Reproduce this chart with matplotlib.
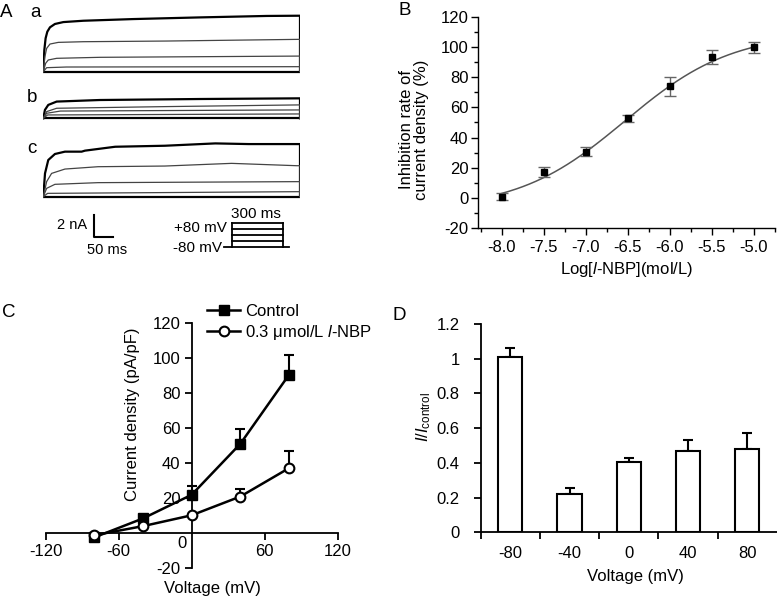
import numpy as np
import matplotlib
matplotlib.use('Agg')
import matplotlib.pyplot as plt
from matplotlib.ticker import MultipleLocator, FixedLocator

plt.rcParams['font.family'] = ['Liberation Sans', 'DejaVu Sans']
plt.rcParams['mathtext.fontset'] = 'custom'
plt.rcParams['mathtext.rm'] = 'Liberation Sans'
plt.rcParams['mathtext.it'] = 'Liberation Sans:italic'
plt.rcParams['axes.unicode_minus'] = False
plt.rcParams['font.size'] = 12

# ---------------- data ----------------
# A: current traces (time ms, current nA)
trace_t_a = [[0, 1.2, 2.7, 4.7, 7.8, 13.6, 23.4, 46.8, 105, 183, 261, 298],
             [0, 1.9, 3.9, 7.8, 17.5, 46.8, 144, 298],
             [0, 2.7, 5.8, 15.6, 66, 298],
             [0, 3.9, 27, 298]]
trace_i_a = [[0, 1.94, 3.0, 3.59, 3.98, 4.28, 4.45, 4.57, 4.72, 4.87, 5.0, 5.02],
             [0, 1.35, 2.09, 2.48, 2.63, 2.69, 2.75, 2.9],
             [0, 0.75, 1.05, 1.2, 1.29, 1.4],
             [0, 0.36, 0.42, 0.45]]
trace_t_b = [[0, 1.9, 5.8, 15.6, 66, 183, 298],
             [0, 3.9, 15.6, 144, 298],
             [0, 3.9, 20, 298],
             [0, 5, 298]]
trace_i_b = [[0, 0.75, 1.2, 1.5, 1.64, 1.73, 1.79],
             [0, 0.6, 0.9, 1.05, 1.2],
             [0, 0.45, 0.65, 0.75],
             [0, 0.3, 0.39]]
trace_t_c = [[0, 2.0, 5.8, 13.6, 25.3, 44.8, 48.7, 84, 142, 201, 240, 296],
             [0, 3.9, 9.7, 25.3, 64, 142, 220, 296],
             [0, 3.9, 13.6, 64, 296],
             [0, 5, 296]]
trace_i_c = [[0, 2.09, 3.29, 3.83, 4.04, 4.04, 4.13, 4.48, 4.57, 4.78, 4.72, 4.72],
             [0, 1.35, 2.09, 2.48, 2.69, 2.75, 2.99, 2.78],
             [0, 0.75, 1.11, 1.26, 1.35],
             [0, 0.3, 0.45]]
step_mv = [-80, -40, 0, 40, 80]

# B: concentration-response
log_conc = [-8.0, -7.5, -7.0, -6.5, -6.0, -5.5, -5.0]
inhibition = [0.6, 16.8, 30.6, 52.7, 74.2, 93.5, 100.0]
inhibition_err = [2.5, 3.3, 3.0, 2.3, 6.4, 4.5, 3.7]
fit_bottom, fit_top, fit_logic50, fit_hill = -8.0, 110.0, -6.533, 0.68
B_xticks = [-8.0, -7.5, -7.0, -6.5, -6.0, -5.5, -5.0]
B_yticks = [-20, 0, 20, 40, 60, 80, 100, 120]

# C: I-V curves
voltage = [-80, -40, 0, 40, 80]
control = [-2.5, 8.3, 21.8, 50.9, 90.3]
control_err = [0, 0, 5.2, 8.6, 11.5]
nbp = [-1.3, 3.9, 10.1, 20.8, 37.0]
nbp_err = [0, 0, 0, 4.2, 9.8]
C_xticks = [-120, -60, 60, 120]
C_yticks = [-20, 20, 40, 60, 80, 100, 120]

# D: I/Icontrol
D_labels = ['-80', '-40', '0', '40', '80']
ratio = [1.01, 0.22, 0.405, 0.47, 0.478]
ratio_err = [0.05, 0.038, 0.022, 0.062, 0.095]
D_yticks = [0, 0.2, 0.4, 0.6, 0.8, 1.0, 1.2]
D_yticklabels = ['0', '0.2', '0.4', '0.6', '0.8', '1', '1.2']

# ---------------- figure ----------------
W, H = 777, 600
fig = plt.figure(figsize=(W / 100, H / 100), dpi=100)


def px_axes(l, t, r, b):
    return fig.add_axes([l / W, 1 - b / H, (r - l) / W, (b - t) / H])


ov = px_axes(0, 0, W, H)
ov.set_xlim(0, W)
ov.set_ylim(H, 0)
ov.axis('off')

# panel letters
ov.text(0, 17, 'A', fontsize=13.5, va='baseline')
ov.text(398, 15, 'B', fontsize=13.5, va='baseline')
ov.text(2, 317, 'C', fontsize=13.5, va='baseline')
ov.text(393, 320, 'D', fontsize=13.5, va='baseline')

# ---------------- A ----------------
S = 11.15  # px per nA
for base, lab, ts, cs in [(71.7, 'a', trace_t_a, trace_i_a),
                          (118.3, 'b', trace_t_b, trace_i_b),
                          (196.7, 'c', trace_t_c, trace_i_c)]:
    ax = px_axes(43.3, base - 62, 300, base + 3)
    ax.set_xlim(0, 300)
    ax.set_ylim(-3 / S, 62 / S)
    ax.axis('off')
    ax.plot([0, 300], [0, 0], color='black', lw=1.6)
    for k, (t, c) in enumerate(zip(ts, cs)):
        tt = list(t) + [300, 300]
        cc = list(c) + [c[-1], 0]
        if k == 0:
            ax.plot(tt, cc, color='black', lw=1.6)
        else:
            ax.plot(tt, cc, color='#444444', lw=0.9)
    ov.text(30 if lab == 'a' else 27, (17 if lab == 'a' else (102 if lab == 'b' else 153)),
            lab, fontsize=13.5, va='baseline')

# scale bar
ov.plot([94.3, 94.3, 113.3], [215, 237.3, 237.3], color='black', lw=1.5)
ov.text(87, 225, '2 nA', fontsize=10.5, ha='right', va='center')
ov.text(107, 250, '50 ms', fontsize=10.5, ha='center', va='center')

# voltage protocol
for mv in step_mv:
    y = 246.7 - (mv + 80) * 0.15
    if mv == -80:
        ov.plot([224, 289], [y, y], color='black', lw=1.3)
    else:
        ov.plot([232, 283], [y, y], color='black', lw=1.3)
ov.plot([232, 232], [246.7, 222.7], color='black', lw=1.3)
ov.plot([283, 283], [246.7, 222.7], color='black', lw=1.3)
ov.text(227, 227.5, '+80 mV', fontsize=11, ha='right', va='center')
ov.text(222, 247.5, '-80 mV', fontsize=11, ha='right', va='center')
ov.text(256, 213.5, '300 ms', fontsize=11, ha='center', va='center')

# ---------------- B ----------------
axB = px_axes(478, 17.3, 774.8, 227.7)
xfit = np.linspace(log_conc[0], log_conc[-1], 200)
yfit = fit_bottom + (fit_top - fit_bottom) / (1 + 10 ** ((fit_logic50 - xfit) * fit_hill))
axB.plot(xfit, yfit, color='#555555', lw=1.1)
axB.errorbar(log_conc, inhibition, yerr=inhibition_err, fmt='s', ms=4, color='black',
             ecolor='#666666', elinewidth=1, capsize=4, capthick=1)
axB.set_xlim(-8.28, -4.75)
axB.set_ylim(-20, 120)
axB.set_xticks(B_xticks)
axB.set_xticklabels(['%.1f' % v for v in B_xticks])
axB.set_yticks(B_yticks)
axB.xaxis.set_minor_locator(MultipleLocator(0.25))
axB.yaxis.set_minor_locator(MultipleLocator(10))
for s in ['top', 'right']:
    axB.spines[s].set_visible(False)
for s in ['left', 'bottom']:
    axB.spines[s].set_linewidth(1)
axB.tick_params(which='major', length=5, width=1)
axB.tick_params(which='minor', length=3, width=1)
axB.tick_params(axis='y', pad=2)
axB.tick_params(axis='x', pad=4)
axB.set_ylabel('Inhibition rate of\ncurrent density (%)', va='center', linespacing=1.0)
axB.yaxis.set_label_coords(-0.2155, 0.467)
axB.set_xlabel(r'Log[$\mathit{l}$-NBP](mol/L)', va='center')
axB.xaxis.set_label_coords(0.502, -0.201)

# ---------------- C ----------------
axC = px_axes(45.7, 322.7, 337.7, 568)
axC.errorbar(voltage, control, yerr=[np.zeros(len(control_err)), control_err], fmt='none',
             ecolor='black', elinewidth=1.5, capsize=3.5, capthick=1.5)
axC.errorbar(voltage, nbp, yerr=[np.zeros(len(nbp_err)), nbp_err], fmt='none',
             ecolor='black', elinewidth=1.5, capsize=3.5, capthick=1.5)
axC.plot(voltage, control, '-s', color='black', lw=1.8, ms=6.5, label='Control', zorder=3)
axC.plot(voltage, nbp, '-o', color='black', lw=1.8, ms=7, mfc='white', mew=1.5,
         label=r'0.3 μmol/L $\mathit{l}$-NBP', zorder=3)
axC.set_xlim(-120, 120)
axC.set_ylim(-20, 120)
for s in ['top', 'right']:
    axC.spines[s].set_visible(False)
axC.spines['left'].set_position(('data', 0))
axC.spines['bottom'].set_position(('data', 0))
for s in ['left', 'bottom']:
    axC.spines[s].set_linewidth(1.3)
axC.set_xticks(C_xticks)
axC.set_yticks(C_yticks)
axC.tick_params(length=5, width=1.3, pad=3)
axC.text(0, 0, '0', transform=axC.transData, ha='right', va='top')
axC.texts[-1].set_position((-4, -1.5))
axC.set_ylabel('Current density (pA/pF)', va='center')
axC.yaxis.set_label_coords((132 - 45.7) / 292, (568 - 414) / 245.3)
axC.set_xlabel('Voltage (mV)', va='center')
axC.xaxis.set_label_coords((212 - 45.7) / 292, (568 - 588) / 245.3)
axC.legend(loc='upper left', bbox_to_anchor=(207 / W, 1 - 304 / H), bbox_transform=fig.transFigure,
           frameon=False, borderpad=0, borderaxespad=0, handlelength=2.0, handletextpad=0.3,
           labelspacing=0.25, fontsize=12)

# ---------------- D ----------------
axD = px_axes(480.7, 324, 776.7, 532.3)
xpos = np.arange(len(ratio))
axD.bar(xpos, ratio, width=0.41, color='white', edgecolor='black', lw=1.5, zorder=2)
axD.errorbar(xpos, ratio, yerr=[np.zeros(len(ratio_err)), ratio_err], fmt='none',
             ecolor='black', elinewidth=1.5, capsize=3.5, capthick=1.5, zorder=1)
axD.set_xlim(-0.5, 4.5)
axD.set_ylim(0, 1.2)
axD.set_xticks(xpos)
axD.set_xticklabels(D_labels)
axD.xaxis.set_minor_locator(FixedLocator([-0.5, 0.5, 1.5, 2.5, 3.5]))
axD.tick_params(axis='x', which='major', length=0, pad=10)
axD.tick_params(axis='x', which='minor', length=5, width=1.3)
axD.set_yticks(D_yticks)
axD.set_yticklabels(D_yticklabels)
axD.tick_params(axis='y', length=5, width=1.3, pad=10)
for s in ['top', 'right']:
    axD.spines[s].set_visible(False)
for s in ['left', 'bottom']:
    axD.spines[s].set_linewidth(1.3)
axD.set_ylabel(r'$I/I_{\mathrm{control}}$', va='center')
axD.yaxis.set_label_coords((424 - 480.7) / 296, (532.3 - 416.5) / 208.3)
axD.set_xlabel('Voltage (mV)', va='center')
axD.xaxis.set_label_coords((635 - 480.7) / 296, (532.3 - 577) / 208.3)

fig.savefig('out.png', dpi=100)
